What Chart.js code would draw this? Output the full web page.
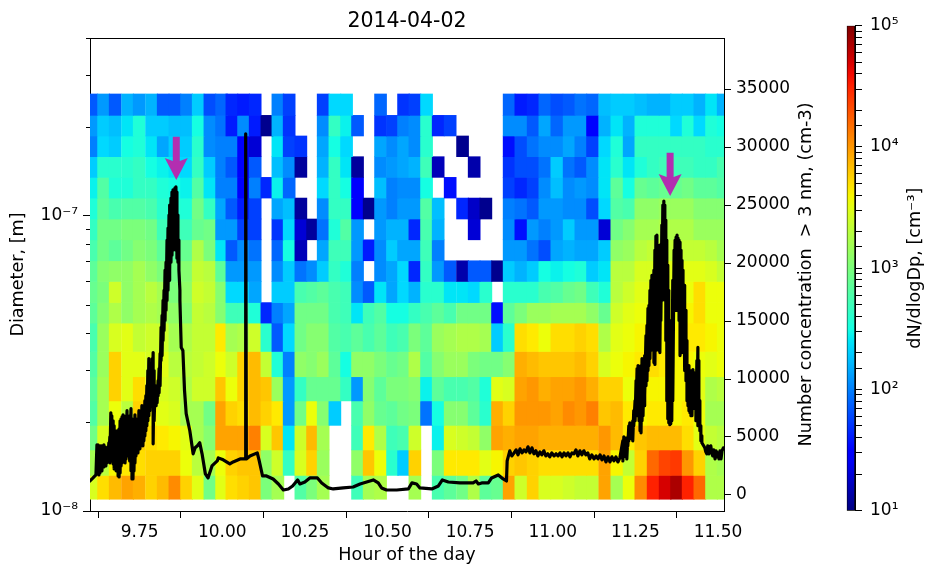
<!DOCTYPE html>
<html>
<head>
<meta charset="utf-8">
<script src="https://cdn.jsdelivr.net/npm/chart.js@4/dist/chart.umd.min.js"></script>
<style>
  html, body { margin: 0; padding: 0; background: #fff; }
  #wrap { position: relative; width: 928px; height: 571px; overflow: hidden; }
  canvas { position: absolute; top: 0; }
</style>
</head>
<body>
<div id="wrap">
  <canvas id="mainChart" width="818" height="571" style="left:0"></canvas>
  <canvas id="barChart" width="110" height="571" style="left:818px"></canvas>
</div>
<script>
const _ = null; // no counts in this cell / no low value for this sample

// centre of each sampling interval, hour of the day
const columnHours = [
  9.6054, 9.6411, 9.6762, 9.7137, 9.7488, 9.7863, 9.8214, 9.8568, 9.8922, 9.9273, 9.9627,
  9.9981, 10.0292, 10.0646, 10.0997, 10.1351, 10.1684, 10.2025, 10.2379, 10.2733, 10.3054,
  10.3408, 10.3762, 10.4094, 10.4445, 10.4790, 10.5153, 10.5486, 10.5828, 10.6182, 10.6533,
  10.6896, 10.7271, 10.7622, 10.7976, 10.8329, 10.8680, 10.9034, 10.9406, 10.9760, 11.0123,
  11.0495, 11.0849, 11.1203, 11.1575, 11.1938, 11.2310, 11.2664, 11.3036, 11.3399, 11.3744,
  11.4095, 11.4449, 11.4803, 11.5154
];

// size bin edges, metres, largest first
const diameterEdges = [
  2.585e-7, 2.188e-7, 1.863e-7, 1.585e-7, 1.349e-7, 1.148e-7, 9.75e-8, 8.29e-8, 7.04e-8, 5.99e-8,
  5.08e-8, 4.33e-8, 3.47e-8, 2.85e-8, 2.36e-8, 1.95e-8, 1.61e-8, 1.32e-8, 1.096e-8
];

// log10(dN/dlogDp), one row per size bin, same order as diameterEdges
const logDn = [
  [1.85,2.1,1.85,2.2,2.1,2.2,1.85,1.85,2.0,2.3,1.8,1.9,1.65,1.6,1.65,_,2.0,1.75,_,_,1.75,2.35,2.35,_,_,1.9,_,1.7,1.75,2.35,_,_,_,_,_,_,1.9,1.6,1.65,1.9,1.8,1.85,1.95,1.9,2.25,2.3,2.3,2.25,2.2,2.2,2.3,2.3,2.2,2.4,2.2],
  [2.1,2.3,2.25,2.4,2.55,2.3,2.3,2.25,2.25,2.5,2.05,1.95,1.6,2.05,1.6,1.05,2.2,1.7,_,_,2.05,2.65,2.45,1.85,_,1.7,1.75,2.0,2.05,2.6,1.65,1.75,_,_,_,_,2.05,2.05,1.85,2.15,1.9,2.1,2.1,1.5,2.2,2.4,2.2,2.55,2.55,2.55,2.35,2.55,2.35,2.55,2.5],
  [2.0,2.35,2.3,2.5,2.55,2.4,2.15,2.3,2.3,2.6,2.05,2.0,2.0,1.45,1.3,_,2.4,1.75,1.7,_,2.15,2.5,2.35,_,_,2.15,2.05,2.15,2.05,2.6,_,_,1.05,_,_,_,1.55,1.8,1.95,2.05,2.05,2.15,2.0,1.75,2.35,2.55,2.15,2.65,2.65,2.65,2.65,2.65,2.65,2.6,2.6],
  [2.3,2.6,2.6,2.6,2.65,2.5,2.45,2.4,2.35,2.65,2.3,2.0,1.85,1.45,1.85,_,2.25,2.05,1.1,_,2.2,2.65,2.4,1.1,_,2.05,2.1,2.15,2.2,2.7,1.2,_,_,1.15,_,_,1.7,1.8,1.8,1.95,2.3,1.95,1.85,2.05,2.4,2.6,2.4,2.55,2.65,2.7,2.7,2.7,2.65,2.65,2.75],
  [2.45,2.8,2.55,2.55,2.65,2.65,2.55,2.5,2.45,2.8,2.4,2.0,2.0,1.45,2.0,1.65,2.45,1.9,_,_,2.35,2.65,2.5,1.5,_,2.25,2.0,2.05,2.05,2.5,_,1.55,_,_,_,_,1.75,1.65,1.75,2.05,2.25,2.05,2.1,2.05,2.4,2.85,2.5,2.9,2.85,2.9,2.9,2.95,2.85,2.85,2.8],
  [2.55,2.85,2.75,2.8,2.8,2.75,2.6,2.6,2.55,2.95,2.65,2.15,1.85,1.6,1.75,_,2.15,2.25,1.1,_,2.05,2.65,2.65,1.5,1.05,2.1,2.0,2.1,2.1,2.8,2.25,_,1.65,1.25,1.05,_,2.0,1.95,1.85,2.1,2.1,2.05,2.05,1.8,2.35,2.8,2.75,3.1,3.1,3.15,3.15,3.15,3.05,3.05,3.05],
  [2.65,2.95,2.95,3.0,3.0,2.95,2.7,2.75,2.7,2.9,2.95,2.1,2.1,1.75,1.75,_,1.7,2.35,1.3,1.1,1.95,2.55,2.8,2.1,_,2.1,2.2,2.2,1.65,2.75,2.2,_,_,1.3,_,_,2.05,1.55,2.1,2.0,2.1,2.3,2.1,2.1,1.3,2.95,3.05,3.2,3.2,3.25,3.25,3.25,3.15,3.15,3.15],
  [2.75,2.95,2.85,2.95,3.05,3.0,2.85,2.85,2.9,3.25,3.0,2.4,1.85,2.05,1.95,_,1.9,2.5,1.2,_,2.15,2.7,2.7,2.1,1.6,2.05,2.3,2.15,2.15,2.7,2.0,_,_,_,_,_,2.1,2.1,1.95,1.8,2.15,2.2,2.15,2.15,2.3,3.1,3.15,3.3,3.35,3.35,3.35,3.35,3.35,3.3,3.2],
  [2.85,3.05,3.1,3.1,3.2,3.1,3.0,2.95,3.05,3.35,3.3,2.85,2.1,2.1,2.1,_,2.05,2.3,1.95,2.05,2.3,2.65,2.55,2.0,_,2.05,2.15,2.35,1.65,2.65,2.1,1.85,1.15,1.85,1.85,1.05,2.3,2.2,2.3,2.5,2.45,2.5,2.55,2.3,2.4,3.3,3.3,3.45,3.45,3.5,3.5,3.5,3.5,3.45,3.35],
  [2.9,3.0,3.4,3.1,3.2,3.3,3.2,3.0,3.1,3.4,3.35,3.05,2.35,2.35,2.15,_,2.3,2.3,2.75,2.8,2.85,2.75,2.7,2.05,1.85,2.4,2.15,2.35,2.2,2.6,2.6,2.4,2.4,2.35,2.6,_,2.6,2.6,2.6,2.75,2.8,2.9,2.95,2.7,2.55,3.3,3.4,3.5,3.5,3.5,3.5,3.55,3.7,3.55,3.55],
  [2.85,3.05,3.25,3.1,3.2,3.25,3.2,3.1,3.05,3.35,3.3,3.05,2.7,2.7,2.55,1.65,2.0,2.15,2.95,2.95,2.95,2.75,2.7,2.4,2.7,2.8,2.5,2.5,2.65,2.75,2.85,2.75,2.95,2.95,2.95,1.55,2.85,3.0,3.15,3.15,3.2,3.2,3.2,3.1,2.9,3.4,3.5,3.55,3.5,3.55,3.55,3.6,3.7,3.55,3.55],
  [2.75,3.15,3.45,3.5,3.35,3.4,3.4,3.2,3.25,3.35,3.35,3.65,3.2,3.25,3.4,2.6,1.85,2.35,2.95,3.05,3.05,2.8,2.75,2.85,2.75,2.85,2.7,2.75,3.0,2.85,3.15,3.2,3.25,3.25,3.2,2.3,2.6,3.7,3.65,3.55,3.7,3.7,3.75,3.7,3.25,3.5,3.55,3.6,3.6,3.6,3.6,3.65,3.65,3.6,3.55],
  [2.8,3.15,3.75,3.5,3.5,3.45,3.5,3.3,3.3,3.35,3.4,3.55,3.4,3.75,3.85,3.35,2.55,2.0,3.1,3.05,3.15,2.85,2.5,3.1,3.1,3.0,2.9,2.95,3.25,2.8,3.05,3.15,3.15,3.0,2.95,2.95,3.05,3.9,3.85,3.8,3.8,3.8,3.85,3.75,3.45,3.55,3.6,3.65,3.7,3.65,3.6,3.6,3.55,3.5,3.55],
  [2.85,3.2,3.75,3.5,3.7,3.55,3.45,3.4,3.25,3.4,3.4,3.8,3.55,3.75,3.85,3.8,3.15,2.1,2.65,2.9,2.9,2.9,2.65,2.1,3.05,2.85,3.0,3.0,3.05,2.45,2.85,2.75,2.75,2.8,2.55,3.5,3.45,3.95,4.0,3.9,3.95,3.95,4.0,3.9,3.75,3.75,3.55,3.65,3.6,3.6,3.6,3.6,3.5,3.25,3.3],
  [2.8,3.2,3.55,3.3,3.75,3.6,3.5,3.45,3.2,3.2,2.95,3.95,3.75,3.7,3.85,3.75,3.65,2.1,2.95,3.55,3.05,2.3,_,2.75,3.1,2.9,2.85,2.95,3.0,1.95,2.5,3.05,3.05,2.85,2.6,3.9,3.75,4.0,4.0,4.0,3.95,4.05,4.0,4.1,3.8,3.85,3.65,3.6,3.65,3.65,3.6,3.65,3.55,3.2,3.2],
  [2.95,3.45,3.55,3.55,3.75,3.7,3.65,3.6,3.5,3.2,3.05,3.95,3.95,3.95,4.1,3.45,3.8,2.4,3.4,3.85,3.2,_,_,2.7,3.65,3.25,2.7,2.75,3.4,_,2.45,3.45,3.4,3.35,3.1,3.95,3.9,3.95,3.95,3.9,3.9,3.9,3.9,3.9,4.0,3.85,3.65,3.8,3.85,3.85,3.85,3.7,3.5,3.35,3.3],
  [3.2,3.3,3.6,3.65,3.7,3.75,3.75,3.75,3.55,3.3,3.2,3.55,3.75,3.8,3.8,3.1,3.4,2.65,3.45,3.75,3.15,_,_,3.1,3.8,3.55,2.6,2.3,3.75,_,3.0,3.65,3.65,3.65,3.5,3.6,3.75,3.8,3.75,3.7,3.7,3.7,3.7,3.7,3.95,3.6,3.35,3.75,4.2,4.35,4.4,4.0,3.75,3.25,3.2],
  [3.45,3.7,3.85,3.95,3.9,3.75,3.85,4.05,3.75,3.5,2.95,3.5,3.7,3.75,3.8,3.0,3.2,_,2.8,3.0,3.2,_,_,2.7,3.2,3.25,_,_,3.2,_,2.75,2.85,2.95,3.25,2.85,2.9,3.95,3.4,3.75,3.45,3.45,3.4,3.35,3.35,3.95,3.2,3.55,4.05,4.5,4.7,4.85,4.5,4.2,3.25,3.25]
];

// total number concentration: for each time the highest and lowest reading of that sample
const concHours = [
  9.600,9.606,9.612,9.618,
  9.621,9.624,9.627,9.630,9.633,9.636,9.639,9.642,9.645,9.648,9.651,9.654,9.657,9.660,9.663,9.666,9.670,9.673,9.676,9.679,9.682,9.685,9.688,9.691,9.694,9.697,9.700,9.703,
  9.706,9.709,9.712,9.715,9.718,9.721,9.724,9.727,9.730,9.733,9.736,9.739,9.742,9.745,9.748,9.751,9.754,9.757,9.760,9.763,9.766,9.769,9.772,9.775,9.778,9.781,9.785,9.788,9.791,9.794,9.797,9.800,
  9.803,9.806,9.809,9.812,
  9.815,9.818,9.821,9.824,9.827,9.830,9.833,9.836,9.839,9.842,9.845,9.848,9.851,9.854,9.857,9.860,9.863,9.866,9.869,9.872,
  9.876,9.881,9.886,9.891,9.902,9.912,9.918,9.925,9.932,9.939,9.949,9.957,9.969,9.985,9.988,10.003,10.023,10.033,10.054,10.070,10.071,10.073,
  10.084,10.106,10.112,10.122,10.134,10.154,10.170,10.185,10.200,10.213,10.228,10.235,10.250,10.265,10.288,10.301,10.321,10.336,10.366,10.396,
  10.417,10.437,10.457,10.472,10.482,10.497,10.528,10.563,10.574,10.588,10.598,10.634,10.654,10.666,10.684,10.719,10.759,10.768,10.775,10.785,
  10.805,10.815,10.835,10.850,10.860,10.862,
  10.870,10.876,10.883,10.889,10.895,10.901,10.907,10.913,10.919,10.925,10.931,10.937,10.943,10.949,10.955,10.961,10.967,10.973,10.979,10.985,
  10.991,10.997,11.004,11.010,11.016,11.022,11.028,11.034,11.040,11.046,11.052,11.058,11.064,11.070,11.076,11.082,11.088,11.094,11.100,11.106,
  11.112,11.118,11.125,11.131,11.137,11.143,11.149,11.155,11.161,11.167,11.173,11.179,11.185,11.191,11.197,11.203,
  11.212,11.215,11.218,11.221,11.224,11.227,11.230,11.233,11.236,11.239,11.242,11.245,11.249,11.252,11.255,11.258,11.261,11.264,11.267,11.270,
  11.273,11.276,11.279,11.282,11.285,11.288,11.291,11.294,11.297,11.300,11.303,11.306,11.309,11.312,11.315,11.318,11.321,11.324,11.327,11.330,
  11.333,11.336,11.339,11.342,11.345,11.348,11.351,11.354,11.357,11.360,11.363,11.367,11.370,11.373,11.376,11.379,11.382,11.385,11.388,11.391,
  11.394,11.397,11.400,11.403,11.406,11.409,11.412,11.415,11.418,11.421,11.424,11.427,11.430,11.433,11.436,11.439,11.442,11.445,11.448,11.451,
  11.460,11.463,11.466,11.469,11.472,11.475,11.478,11.481,11.484,11.487,11.491,11.494,11.497,11.500,11.503,11.506,11.509,11.512,11.516
];
const concHigh = [
  1210,1380,1560,1730,
  4325,4325,3810,4240,4240,4240,4150,4325,4150,3980,4070,4150,4500,5020,7090,6830,6400,5970,5540,5100,5540,4840,5710,6400,6570,6750,6920,6400,
  5970,6830,7270,6400,5970,6830,7440,6570,5970,6400,6920,6570,5970,6570,7270,6830,7270,7700,7090,7440,8130,8560,9430,10730,11760,10550,11160,11760,12280,10730,9430,9170,
  9430,9860,10900,12200,
  14450,15480,16780,17650,19380,20070,21970,23010,24130,25000,25600,26120,26300,26300,26470,26560,26120,24130,21970,17650,
  12720,12460,9000,7010,5540,3550,4070,4240,4500,3550,1820,1470,2510,2940,3200,3030,2680,2850,3110,3110,31140,3110,
  3370,3630,2940,1640,1640,1380,950,430,520,780,1300,950,1120,1470,1470,1040,610,520,610,690,
  950,1120,1300,1040,610,430,430,520,1040,950,610,520,780,1300,1120,1040,1040,1210,950,1040,
  1040,1470,1730,1380,1210,2940,
  3810,3370,3630,3890,3460,3980,3630,3890,3720,4150,3630,4070,3550,3810,3370,3720,3460,3810,3370,3550,
  3290,3630,3370,3550,3370,3630,3290,3630,3370,3630,3290,3630,3550,3890,3370,3810,3460,3810,3460,3630,
  3110,3460,3110,3370,3110,3460,3030,3370,2850,3290,2850,3290,2940,3290,2850,3200,
  4670,5020,4930,4670,4500,5020,5970,6230,6140,5710,6400,7270,8130,9860,10900,11160,10730,10290,11160,11760,
  11590,11160,12020,13750,14620,16090,16350,17650,18510,18940,18510,19380,21110,22320,22400,21540,21110,21540,21540,23270,
  25000,25340,25000,23700,21970,19810,17650,15050,14190,13750,18510,21110,21970,22230,22400,22140,21970,21800,21110,20240,
  19380,18080,17650,15920,13320,10730,11160,10730,10290,10730,10810,10550,9430,9860,11590,12720,11590,8130,5970,5100,
  4070,3720,3550,4240,3550,3980,4240,3630,3370,3890,3110,3810,3290,3630,3110,3810,3110,3810,4070
];
const concLow = [
  _,_,_,_,
  1900,2080,1730,1900,2250,2080,2510,2420,2770,2510,2770,2940,3110,2770,3810,2940,2680,2250,2940,2080,2080,1640,1560,1900,2510,2770,3110,2940,
  2770,3110,3370,3810,3110,2940,2080,1380,1380,2080,2770,3370,3810,3630,4240,3980,4240,4670,4240,4670,5100,5540,5970,6400,6830,7270,7700,8130,4410,6400,8130,7700,
  7960,8560,8820,9430,
  11590,12020,13320,14190,15050,15920,16780,17650,18510,19380,20070,20670,21110,21540,21970,21110,20410,20070,19380,16780,
  _,_,_,_,_,_,_,_,_,_,_,_,_,_,_,_,_,_,_,_,_,_,
  _,_,_,_,_,_,_,_,_,_,_,_,_,_,_,_,_,_,_,_,
  _,_,_,_,_,_,_,_,_,_,_,_,_,_,_,_,_,_,_,_,
  _,_,_,_,_,_,
  _,_,_,_,_,_,_,_,_,_,_,_,_,_,_,_,_,_,_,_,
  _,_,_,_,_,_,_,_,_,_,_,_,_,_,_,_,_,_,_,_,
  _,_,_,_,_,_,_,_,_,_,_,_,_,_,_,_,
  2940,3370,3630,3290,3110,4240,4670,5100,5540,4840,4670,5970,6400,6830,7270,6830,6400,5540,5360,6400,
  6830,7700,8560,9430,9860,10730,11160,11760,12460,12890,12890,11420,11250,12460,13750,12890,12460,12280,15050,16780,
  18510,19380,16780,13320,8130,6570,6230,6060,6140,6400,8130,15920,15920,15920,15920,15920,15050,12020,12890,12280,
  12890,12020,10730,9860,8130,7700,7270,7090,6830,6830,7700,8560,7440,6400,6400,5970,5970,5540,4670,4500,
  _,_,_,_,_,_,_,_,_,_,_,_,_,_,_,_,_,_,_
];

// arrows marking the two plumes, on the concentration axis
const arrowHours = [9.861, 11.355];
const arrowTail = [30880, 29500];
const arrowTip = [27160, 25780];

const xTicks = [9.75, 10.0, 10.25, 10.5, 10.75, 11.0, 11.25, 11.5];
const diameterTicks = [1e-8, 1e-7];
const diameterTickLabels = ['10⁻⁸', '10⁻⁷'];
const diameterMinorTicks = [2e-8, 3e-8, 4e-8, 5e-8, 6e-8, 7e-8, 8e-8, 9e-8, 2e-7, 3e-7, 4e-7];
const concTicks = [0, 5000, 10000, 15000, 20000, 25000, 30000, 35000];
const barLabels = { 10: '10¹', 100: '10²', 1000: '10³', 10000: '10⁴', 100000: '10⁵' };

Chart.defaults.font.family = '"DejaVu Sans"';
Chart.defaults.font.size = 17;
Chart.defaults.color = '#000';
Chart.defaults.animation = false;

const LABEL_SIZE = 17.6;

// matplotlib jet, t in 0..1
const jetStops = {
  r: [[0, 0], [0.35, 0], [0.66, 1], [0.89, 1], [1, 0.5]],
  g: [[0, 0], [0.125, 0], [0.375, 1], [0.64, 1], [0.91, 0], [1, 0]],
  b: [[0, 0.5], [0.11, 1], [0.34, 1], [0.65, 0], [1, 0]]
};
function jetChannel(stops, t) {
  for (let i = 1; i < stops.length; i++) {
    if (t <= stops[i][0]) {
      const f = (t - stops[i - 1][0]) / (stops[i][0] - stops[i - 1][0]);
      return stops[i - 1][1] + f * (stops[i][1] - stops[i - 1][1]);
    }
  }
  return stops[stops.length - 1][1];
}
function jet(t) {
  const c = k => Math.round(255 * jetChannel(jetStops[k], t));
  return `rgb(${c('r')},${c('g')},${c('b')})`;
}
// colour norm runs from 10^1 to 10^5
const cellColor = logVal => jet((logVal - 1) / 4);

// one floating-bar dataset per size bin
const heatDatasets = logDn.map((row, r) => ({
  type: 'bar',
  yAxisID: 'y',
  order: 2,
  grouped: false,
  barThickness: 12,
  borderWidth: 0,
  data: row.map((v, c) => ({ x: columnHours[c], y: v === _ ? null : [diameterEdges[r + 1], diameterEdges[r]] })),
  backgroundColor: row.map(v => (v === _ ? 'transparent' : cellColor(v)))
}));

// high then low reading of each sample, so the noisy stretches come out as a solid band
const concPoints = concHours.flatMap((h, i) => (
  concLow[i] === _ ? [{ x: h, y: concHigh[i] }] : [{ x: h, y: concHigh[i] }, { x: h, y: concLow[i] }]
));

const axesFrame = {
  id: 'axesFrame',
  afterDatasetsDraw(chart) {
    const { ctx, chartArea: a, scales } = chart;
    ctx.save();
    // arrows
    ctx.fillStyle = '#b32eb0';
    arrowHours.forEach((h, i) => {
      const x = scales.x.getPixelForValue(h);
      const tail = scales.y2.getPixelForValue(arrowTail[i]);
      const tip = scales.y2.getPixelForValue(arrowTip[i]);
      const neck = tip - 22;
      ctx.beginPath();
      ctx.moveTo(x - 3.5, tail);
      ctx.lineTo(x + 3.5, tail);
      ctx.lineTo(x + 3.5, neck + 3);
      ctx.lineTo(x + 11.5, neck);
      ctx.lineTo(x, tip);
      ctx.lineTo(x - 11.5, neck);
      ctx.lineTo(x - 3.5, neck + 3);
      ctx.closePath();
      ctx.fill();
    });
    // top spine and short minor ticks on the log axis
    ctx.strokeStyle = '#000';
    ctx.lineWidth = 1;
    ctx.beginPath();
    ctx.moveTo(a.left, a.top + 0.5);
    ctx.lineTo(a.right, a.top + 0.5);
    diameterMinorTicks.forEach(v => {
      const y = Math.round(scales.y.getPixelForValue(v)) + 0.5;
      ctx.moveTo(a.left - 4, y);
      ctx.lineTo(a.left, y);
    });
    ctx.stroke();
    ctx.restore();
  }
};

// right hand titles read upwards here, Chart.js would turn them the other way
const upTitle = {
  id: 'upTitle',
  afterDraw(chart, args, opts) {
    const { ctx, chartArea: a } = chart;
    ctx.save();
    ctx.translate(opts.x, (a.top + a.bottom) / 2);
    ctx.rotate(-Math.PI / 2);
    ctx.font = LABEL_SIZE + 'px "DejaVu Sans"';
    ctx.fillStyle = '#000';
    ctx.textAlign = 'center';
    ctx.textBaseline = 'middle';
    ctx.fillText(opts.text, 0, 0);
    ctx.restore();
  }
};

const tickGrid = { drawOnChartArea: false, color: '#000', tickLength: 7, tickColor: '#000' };
const axisBorder = { display: true, color: '#000', width: 1 };

new Chart(document.getElementById('mainChart'), {
  type: 'bar',
  data: {
    datasets: [
      ...heatDatasets,
      {
        type: 'line',
        yAxisID: 'y2',
        order: 1,
        data: concPoints,
        borderColor: '#000',
        borderWidth: 3.2,
        borderJoinStyle: 'round',
        borderCapStyle: 'round',
        pointRadius: 0,
        tension: 0
      }
    ]
  },
  options: {
    responsive: false,
    layout: { padding: 0 },
    plugins: {
      legend: { display: false },
      tooltip: { enabled: false },
      title: {
        display: true,
        text: '2014-04-02',
        fullSize: false,
        color: '#000',
        font: { size: 20.5, weight: 'normal' },
        padding: { top: 9.5, bottom: 3.9 }
      },
      upTitle: { text: 'Number concentration  > 3 nm, (cm-3)', x: 806 }
    },
    scales: {
      x: {
        type: 'linear',
        offset: false,
        min: 9.6,
        max: 11.518,
        grid: tickGrid,
        border: axisBorder,
        ticks: { autoSkip: false, maxRotation: 0, padding: 4, callback: v => v.toFixed(2) },
        afterBuildTicks: s => { s.ticks = xTicks.map(value => ({ value })); },
        afterFit: s => { s.height = 60; },
        title: { display: true, text: 'Hour of the day', font: { size: LABEL_SIZE }, padding: { top: 0, bottom: 5 } }
      },
      y: {
        type: 'logarithmic',
        position: 'left',
        min: 1e-8,
        max: 4e-7,
        grid: tickGrid,
        border: axisBorder,
        ticks: { autoSkip: false, padding: 5, callback: v => diameterTickLabels[diameterTicks.indexOf(v)] },
        afterBuildTicks: s => { s.ticks = diameterTicks.map(value => ({ value })); },
        afterFit: s => { s.width = 90; },
        title: { display: true, text: 'Diameter, [m]', font: { size: LABEL_SIZE }, padding: { top: 8, bottom: 0 } }
      },
      y2: {
        type: 'linear',
        position: 'right',
        min: -1380,
        max: 39400,
        grid: tickGrid,
        border: axisBorder,
        ticks: { autoSkip: false, padding: 5, callback: v => String(v) },
        afterBuildTicks: s => { s.ticks = concTicks.map(value => ({ value })); },
        afterFit: s => { s.width = 94; }
      }
    }
  },
  plugins: [axesFrame, upTitle]
});

// colour bar
new Chart(document.getElementById('barChart'), {
  type: 'bar',
  data: {
    labels: ['dN/dlogDp'],
    datasets: [{
      data: [[10, 100000]],
      barPercentage: 1,
      categoryPercentage: 1,
      borderWidth: 1,
      borderColor: '#000',
      borderSkipped: false,
      backgroundColor: ctx => {
        const a = ctx.chart.chartArea;
        if (!a) return '#000';
        const g = ctx.chart.ctx.createLinearGradient(0, a.bottom, 0, a.top);
        for (let i = 0; i <= 40; i++) g.addColorStop(i / 40, jet(i / 40));
        return g;
      }
    }]
  },
  options: {
    responsive: false,
    layout: { padding: { left: 28.7, top: 25.7, bottom: 60.3 } },
    plugins: {
      legend: { display: false },
      tooltip: { enabled: false },
      upTitle: { text: 'dN/dlogDp, [cm⁻³]', x: 97 }
    },
    scales: {
      x: { display: false },
      y: {
        type: 'logarithmic',
        position: 'right',
        min: 10,
        max: 100000,
        grid: { drawOnChartArea: false, color: '#000', tickLength: 7 },
        border: axisBorder,
        ticks: { autoSkip: false, padding: 8, callback: v => barLabels[v] || '' },
        afterFit: s => { s.width = 73; }
      }
    }
  },
  plugins: [upTitle]
});
</script>
</body>
</html>
